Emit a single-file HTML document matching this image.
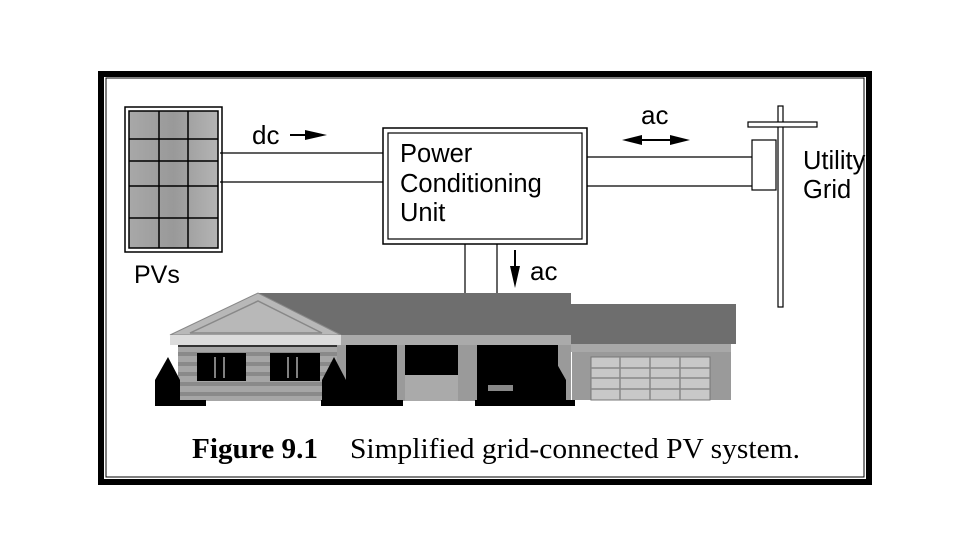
<!DOCTYPE html><html><head><style>body{margin:0;background:#fff}svg{display:block}</style></head><body>
<svg width="960" height="540" viewBox="0 0 960 540" xmlns="http://www.w3.org/2000/svg" font-family="Liberation Sans, sans-serif">
<rect x="0" y="0" width="960" height="540" fill="#fff"/>
<defs><linearGradient id="pg" x1="0" x2="1"><stop offset="0" stop-color="#a8a8a8"/><stop offset="0.5" stop-color="#999"/><stop offset="1" stop-color="#b4b4b4"/></linearGradient></defs>
<rect x="125" y="107" width="97" height="145" fill="#fff" stroke="#000" stroke-width="1.5"/>
<rect x="129" y="111" width="89" height="137" fill="url(#pg)" stroke="#000" stroke-width="1.5"/>
<g stroke="#000" stroke-width="1.5">
<line x1="159" y1="111" x2="159" y2="248"/><line x1="188" y1="111" x2="188" y2="248"/>
<line x1="129" y1="139" x2="218" y2="139"/><line x1="129" y1="161" x2="218" y2="161"/><line x1="129" y1="186" x2="218" y2="186"/><line x1="129" y1="218" x2="218" y2="218"/>
</g>
<text x="134" y="283" font-size="25">PVs</text>
<line x1="220" y1="153" x2="383" y2="153" stroke="#000" stroke-width="1.2"/>
<line x1="220" y1="182" x2="383" y2="182" stroke="#000" stroke-width="1.2"/>
<text x="252" y="144" font-size="26">dc</text>
<line x1="290" y1="135" x2="310" y2="135" stroke="#000" stroke-width="2"/>
<polygon points="305,130 327,135 305,140" fill="#000"/>
<rect x="383" y="128" width="204" height="116" fill="#fff" stroke="#000" stroke-width="1.5"/>
<rect x="388" y="133" width="194" height="106" fill="none" stroke="#000" stroke-width="1.2"/>
<text font-size="25.5"><tspan x="400" y="162">Power</tspan><tspan x="400" y="192">Conditioning</tspan><tspan x="400" y="221">Unit</tspan></text>
<line x1="465" y1="244" x2="465" y2="295" stroke="#000" stroke-width="1.2"/>
<line x1="497" y1="244" x2="497" y2="295" stroke="#000" stroke-width="1.2"/>
<line x1="515" y1="250" x2="515" y2="270" stroke="#000" stroke-width="2"/>
<polygon points="510,266 520,266 515,288" fill="#000"/>
<text x="530" y="280" font-size="26">ac</text>
<line x1="587" y1="157" x2="752" y2="157" stroke="#000" stroke-width="1.2"/>
<line x1="587" y1="186" x2="752" y2="186" stroke="#000" stroke-width="1.2"/>
<text x="641" y="124" font-size="26">ac</text>
<line x1="630" y1="140" x2="682" y2="140" stroke="#000" stroke-width="2"/>
<polygon points="622,140 642,135 642,145" fill="#000"/>
<polygon points="690,140 670,135 670,145" fill="#000"/>
<rect x="778" y="106" width="5" height="201" fill="#fff" stroke="#000" stroke-width="1.2"/>
<rect x="748" y="122" width="69" height="5" fill="#fff" stroke="#000" stroke-width="1.2"/>
<rect x="752" y="140" width="24" height="50" fill="#fff" stroke="#000" stroke-width="1.2"/>
<text font-size="25.5"><tspan x="803" y="169">Utility</tspan><tspan x="803" y="198">Grid</tspan></text>
<rect x="337" y="293" width="234" height="52" fill="#6e6e6e"/>
<polygon points="258,293 337,293 341,335 258,293" fill="#6e6e6e"/>
<polygon points="170,335 258,293 341,335" fill="#b8b8b8" stroke="#888" stroke-width="1"/>
<polygon points="190,333 258,301 322,333" fill="none" stroke="#888" stroke-width="1.5"/>
<rect x="571" y="304" width="165" height="40" fill="#6e6e6e"/>
<rect x="571" y="344" width="160" height="8" fill="#a8a8a8"/>
<rect x="170" y="335" width="171" height="10" fill="#dcdcdc"/>
<rect x="341" y="335" width="230" height="10" fill="#aaa"/>
<rect x="178" y="345" width="159" height="56" fill="#a6a6a6"/>
<g fill="#8a8a8a"><rect x="178" y="352" width="159" height="4"/><rect x="178" y="362" width="159" height="4"/><rect x="178" y="372" width="159" height="4"/><rect x="178" y="382" width="159" height="4"/><rect x="178" y="392" width="159" height="4"/></g>
<rect x="178" y="345" width="159" height="2" fill="#333"/>
<rect x="197" y="353" width="49" height="28" fill="#000"/><rect x="270" y="353" width="50" height="28" fill="#000"/>
<g stroke="#aaa" stroke-width="1.5"><line x1="215" y1="357" x2="215" y2="378"/><line x1="224" y1="357" x2="224" y2="378"/><line x1="288" y1="357" x2="288" y2="378"/><line x1="297" y1="357" x2="297" y2="378"/></g>
<rect x="337" y="345" width="234" height="56" fill="#9a9a9a"/>
<rect x="346" y="345" width="51" height="56" fill="#000"/>
<rect x="405" y="345" width="53" height="30" fill="#000"/>
<rect x="405" y="375" width="53" height="26" fill="#aaa"/>
<rect x="477" y="345" width="81" height="56" fill="#000"/>
<rect x="488" y="385" width="25" height="6" fill="#888"/>
<rect x="572" y="352" width="159" height="48" fill="#9a9a9a"/>
<rect x="591" y="357" width="119" height="43" fill="#c8c8c8" stroke="#777"/>
<g stroke="#888" stroke-width="1.5"><line x1="591" y1="368" x2="710" y2="368"/><line x1="591" y1="378" x2="710" y2="378"/><line x1="591" y1="389" x2="710" y2="389"/><line x1="620" y1="357" x2="620" y2="400"/><line x1="650" y1="357" x2="650" y2="400"/><line x1="680" y1="357" x2="680" y2="400"/></g>
<g fill="#000"><polygon points="168,357 155,380 155,404 180,404 180,380"/><polygon points="334,357 322,380 322,404 346,404 346,380"/><polygon points="553,357 540,380 540,404 566,404 566,380"/>
<rect x="155" y="400" width="51" height="6"/><rect x="321" y="400" width="82" height="6"/><rect x="475" y="400" width="100" height="6"/></g>
<text x="192" y="458" font-size="28" font-family="Liberation Serif, serif" font-weight="bold" textLength="126" lengthAdjust="spacingAndGlyphs">Figure 9.1</text>
<text x="350" y="458" font-size="28" font-family="Liberation Serif, serif" textLength="450" lengthAdjust="spacingAndGlyphs">Simplified grid-connected PV system.</text>
<rect x="101" y="74" width="768" height="408" fill="none" stroke="#000" stroke-width="6"/>
<rect x="106" y="78" width="758" height="399" fill="none" stroke="#000" stroke-width="1"/>
</svg>
</body></html>
